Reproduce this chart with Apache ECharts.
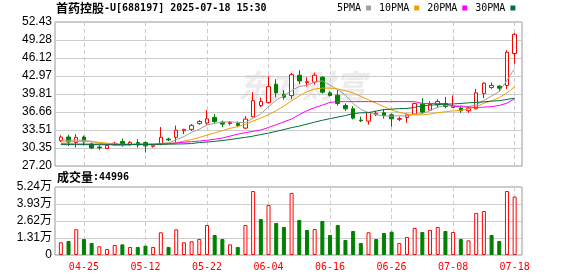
<!DOCTYPE html>
<html><head><meta charset="utf-8">
<script src="https://cdn.jsdelivr.net/npm/echarts@6.0.0/dist/echarts.min.js"></script>
<style>html,body{margin:0;padding:0;background:#fff;}#c{width:578px;height:276px;}</style>
</head><body><div id="c"></div>
<script>
const titleName = '首药控股';
const titleRest = '-U[688197] 2025-07-18 15:30';
const dates = ['04-22','04-23','04-24','04-25','04-28','04-29','04-30','05-06','05-07','05-08','05-09','05-12','05-13','05-14','05-15','05-16','05-19','05-20','05-21','05-22','05-23','05-26','05-27','05-28','05-29','05-30','06-03','06-04','06-05','06-06','06-09','06-10','06-11','06-12','06-13','06-16','06-17','06-18','06-19','06-20','06-23','06-24','06-25','06-26','06-27','06-30','07-01','07-02','07-03','07-04','07-07','07-08','07-09','07-10','07-11','07-14','07-15','07-16','07-17','07-18'];
const opens = [31.62,32.27,31.31,32.27,31.05,30.52,30.26,30.91,31.48,30.92,31.31,31.31,30.65,30.96,31.92,32.22,33.37,33.62,34.63,34.72,35.71,34.89,34.66,34.63,33.84,35.82,37.78,38.30,41.54,39.79,39.53,43.11,41.80,41.89,42.76,40.01,39.61,37.81,37.22,35.24,35.07,36.20,36.52,36.17,35.38,35.71,36.29,38.04,36.99,37.92,38.16,37.46,37.34,36.87,37.22,39.91,40.96,41.19,41.31,46.90];
const closes = [32.27,31.40,32.23,31.45,30.35,30.38,30.82,31.19,30.91,31.34,30.87,30.72,30.80,32.23,31.78,33.49,33.62,34.32,35.01,35.47,34.98,34.54,34.80,34.32,35.42,38.65,38.51,41.10,40.01,39.26,43.20,42.11,41.97,43.11,40.14,39.56,38.16,37.22,35.59,35.12,36.59,36.43,36.06,35.47,35.50,36.17,38.16,36.64,37.99,38.51,37.62,37.72,36.87,37.34,40.01,41.71,41.31,40.84,47.13,50.28];
const lows = [31.40,30.70,30.43,30.78,30.17,30.03,30.17,30.75,30.57,30.70,30.40,29.56,30.43,30.82,31.57,31.40,32.79,33.37,34.42,34.42,34.63,34.02,34.31,34.02,33.67,35.71,37.51,38.13,39.21,38.83,38.91,41.54,41.10,41.45,39.91,39.35,37.78,36.87,35.36,34.89,34.46,35.94,35.50,34.07,35.07,34.77,36.17,36.41,36.82,37.46,37.34,37.43,36.52,36.52,37.11,39.09,40.71,40.31,40.71,45.12];
const highs = [32.57,32.67,32.79,32.53,31.31,30.82,31.13,31.43,32.01,31.57,31.92,31.48,30.95,34.02,32.18,34.28,33.72,34.54,35.24,36.99,36.29,35.15,35.07,35.00,35.94,40.14,39.18,42.93,42.41,40.49,43.51,43.98,42.76,43.55,42.93,40.31,40.49,38.16,37.69,35.85,36.64,36.87,37.17,36.41,35.85,36.38,38.27,39.09,38.56,38.86,39.32,39.56,37.69,37.69,40.71,41.89,41.83,41.36,47.48,50.50];
const volumes = [9800,10800,19800,12300,9300,6700,4600,7700,8200,6200,6200,7200,6200,17500,6200,19800,9800,10600,12300,23100,15400,12300,8200,6200,23100,49300,27700,38500,24700,21600,47800,27000,19300,20000,26200,15400,23100,11600,18500,9300,17500,12300,17000,18000,9300,13900,20800,17700,19300,21600,18500,17700,12300,11300,32400,33900,15400,10800,49300,44996];
const ma5 = [31.8,31.7,31.75,31.7,31.54,31.16,31.05,30.84,30.73,30.93,31.03,31.0,30.91,31.17,31.26,31.78,32.36,33.09,33.64,34.38,34.68,34.86,34.96,34.82,34.81,35.55,36.34,37.60,38.74,39.51,40.42,41.14,41.31,41.93,42.11,41.38,40.59,39.64,38.13,37.13,36.54,36.19,35.96,35.93,36.01,35.93,36.27,36.39,36.89,37.49,37.80,37.70,37.75,37.62,37.92,38.72,39.45,40.24,42.20,44.25];
const ma10 = [31.40,31.45,31.48,31.48,31.45,31.35,31.2,31.1,31.0,30.98,30.95,30.92,30.9,30.98,31.1,31.3,31.55,31.85,32.2,32.6,33.0,33.4,33.8,34.1,34.5,35.1,35.6,36.2,36.9,37.7,38.6,39.5,40.2,40.7,40.85,40.85,40.7,40.4,40.0,39.4,38.8,38.2,37.6,37.0,36.6,36.3,36.2,36.15,36.3,36.55,36.7,36.85,36.95,37.2,37.6,38.2,38.6,39.2,40.0,41.1];
const ma20 = [31.1,31.08,31.06,31.05,31.04,31.02,31.0,31.0,31.0,31.02,31.03,31.03,31.05,31.08,31.13,31.22,31.36,31.47,31.57,31.71,31.89,32.11,32.44,32.78,33.04,33.28,33.51,33.95,34.44,34.93,35.43,36.2,36.9,37.43,37.86,38.35,38.48,38.48,38.48,38.48,38.48,38.48,38.48,38.48,38.48,38.48,38.48,38.16,38.16,38.16,38.13,37.69,37.57,37.51,37.46,37.51,37.6,37.81,38.21,38.97];
const ma30 = [30.95,30.95,30.94,30.94,30.93,30.93,30.93,30.94,30.95,30.96,30.97,30.98,30.99,31.0,31.02,31.05,31.08,31.13,31.31,31.40,31.52,31.66,31.83,32.04,32.22,32.44,32.71,32.97,33.27,33.58,33.93,34.19,34.54,34.89,35.21,35.50,35.77,36.03,36.38,36.52,36.55,36.82,37.08,37.17,37.25,37.29,37.46,37.78,37.86,37.95,38.04,38.07,38.16,38.27,38.35,38.44,38.56,38.65,38.86,39.09];
const priceTicks = ['27.20','30.35','33.51','36.66','39.81','42.97','46.12','49.28','52.43'];
const volTicks = ['0','1.31万','2.62万','3.93万','5.24万'];
const priceMin = 27.20, priceMax = 52.43;
const volMax = 52400;
const maNames = ['5PMA','10PMA','20PMA','30PMA'];
const maColors = ['#a0a0a0','#f0a000','#ff00ff','#00703c'];

const RED = '#ff0000', GREEN = '#008000';
const candleData = dates.map((d, i) => [opens[i], closes[i], lows[i], highs[i]]);
const volData = volumes.map((v, i) => {
  const up = i === 0 ? closes[0] >= opens[0] : closes[i] >= closes[i - 1];
  return { value: v, itemStyle: up ? { color: '#ffffff', borderColor: RED, borderWidth: 1 } : { color: GREEN, borderColor: GREEN, borderWidth: 1 } };
});
const markIdx = (idx) => idx % 8 === 3;
const monoFont = 'DejaVu Sans Mono';
const gridL = 57, gridR = 59.5;

const chart = echarts.init(document.getElementById('c'), null, { renderer: 'canvas' });
chart.setOption({
  animation: false,
  backgroundColor: '#ffffff',
  title: [
    { left: 56, top: 2, padding: 0,
      text: '{c|' + titleName + '}{a|' + titleRest + '}',
      textStyle: { rich: {
        c: { fontFamily: 'Noto Sans CJK SC', fontSize: 12, color: '#000' },
        a: { fontFamily: monoFont, fontSize: 10, color: '#000' } } } },
    { left: 57, top: 171, padding: 0,
      text: '{c|成交量}{a|:' + volumes[volumes.length - 1] + '}',
      textStyle: { rich: {
        c: { fontFamily: 'Noto Sans CJK SC', fontSize: 12, color: '#000' },
        a: { fontFamily: monoFont, fontSize: 10, color: '#000' } } } }
  ],
  legend: {
    data: maNames, left: 337, top: 3, padding: 0, icon: 'rect', itemWidth: 5, itemHeight: 5,
    itemGap: 8, align: 'right', selectedMode: false,
    textStyle: { fontFamily: monoFont, fontSize: 10, color: '#000', padding: [0, 0, 0, 0] }
  },
  graphic: [{
    type: 'text', left: 238, top: 70, z: -10, silent: true,
    style: { text: '东方财富', fontFamily: 'Noto Sans CJK SC', fontSize: 32, fontWeight: 'bold', fontStyle: 'italic', fill: '#ececec' }
  }],
  grid: [
    { left: gridL, right: gridR, top: 22, height: 144 },
    { left: gridL, right: gridR, top: 187, height: 68 },
    { left: 55, right: 56, top: 22, height: 144, show: true, borderColor: '#999', borderWidth: 1, backgroundColor: 'transparent' },
    { left: 55, right: 56, top: 187, height: 68, show: true, borderColor: '#999', borderWidth: 1, backgroundColor: 'transparent' }
  ],
  xAxis: [
    { type: 'category', gridIndex: 0, data: dates, boundaryGap: true,
      axisLine: { show: false }, axisTick: { show: false }, axisLabel: { show: false },
      splitLine: { show: true, interval: markIdx, alignWithLabel: true, lineStyle: { color: '#cccccc', type: [4, 3] } } },
    { type: 'category', gridIndex: 1, data: dates, boundaryGap: true,
      axisLine: { show: false }, axisTick: { show: false },
      axisLabel: { interval: markIdx, color: RED, fontFamily: monoFont, fontSize: 10, margin: 7 },
      splitLine: { show: true, interval: markIdx, alignWithLabel: true, lineStyle: { color: '#cccccc', type: [4, 3] } } },
    { type: 'value', gridIndex: 2, min: 0, max: 1, show: false },
    { type: 'value', gridIndex: 3, min: 0, max: 1, show: false }
  ],
  yAxis: [
    { type: 'value', gridIndex: 0, min: priceMin, max: priceMax, show: false, splitLine: { show: false } },
    { type: 'value', gridIndex: 1, min: 0, max: volMax, show: false, splitLine: { show: false } },
    { type: 'value', gridIndex: 2, min: 0, max: priceTicks.length - 1, interval: 1,
      axisLine: { show: false }, axisTick: { show: false },
      axisLabel: { formatter: (v) => priceTicks[Math.round(v)], fontFamily: 'Liberation Sans', fontSize: 12, color: '#000', margin: 3 },
      splitLine: { show: true, lineStyle: { color: '#cccccc', width: 1 } } },
    { type: 'value', gridIndex: 3, min: 0, max: volTicks.length - 1, interval: 1,
      axisLine: { show: false }, axisTick: { show: false },
      axisLabel: { formatter: (v) => volTicks[Math.round(v)], fontFamily: 'Liberation Sans, Noto Sans CJK SC', fontSize: 12, color: '#000', margin: 3 },
      splitLine: { show: true, lineStyle: { color: '#cccccc', width: 1 } } }
  ],
  series: [
    { type: 'candlestick', name: 'K', xAxisIndex: 0, yAxisIndex: 0, data: candleData, barWidth: 4,
      itemStyle: { color: '#ffffff', color0: GREEN, borderColor: RED, borderColor0: GREEN, borderWidth: 1 } },
    ...[ma5, ma10, ma20, ma30].map((arr, k) => ({
      type: 'line', name: maNames[k], xAxisIndex: 0, yAxisIndex: 0, data: arr, symbol: 'none', z: 3,
      itemStyle: { color: maColors[k] }, lineStyle: { color: maColors[k], width: 1 } })),
    { type: 'bar', name: 'VOL', xAxisIndex: 1, yAxisIndex: 1, data: volData, barWidth: 4 }
  ]
});
</script></body></html>
